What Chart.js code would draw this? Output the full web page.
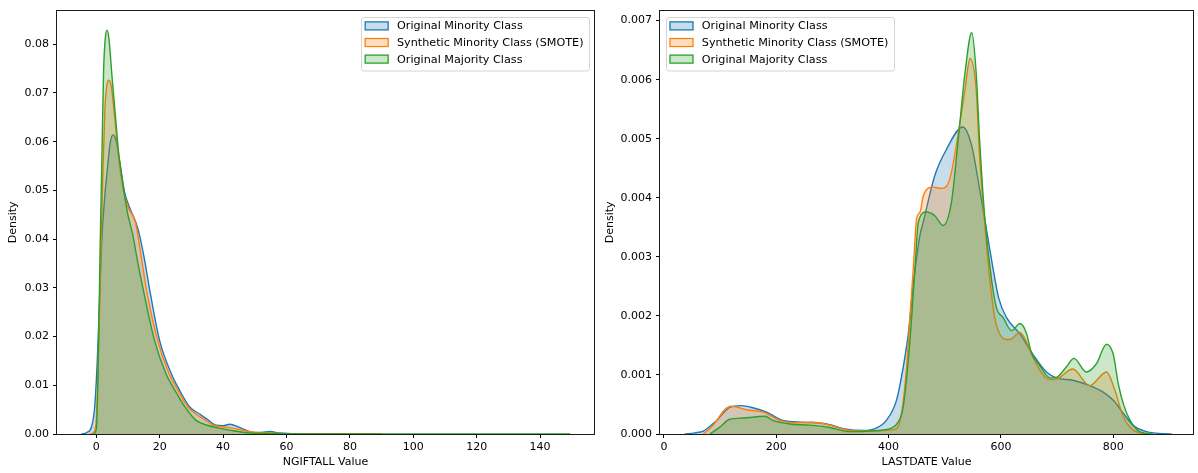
<!DOCTYPE html>
<html>
<head>
<meta charset="utf-8">
<script src="https://cdn.jsdelivr.net/npm/chart.js@4/dist/chart.umd.min.js"></script>
<style>
  html, body { margin: 0; padding: 0; background: #fff; }
  #wrap { position: relative; width: 1198px; height: 473px; }
  canvas { position: absolute; top: 0; }
</style>
</head>
<body>
<div id="wrap">
  <canvas id="ngiftallChart" width="600" height="473" style="left:0"></canvas>
  <canvas id="lastdateChart" width="598" height="473" style="left:600px"></canvas>
</div>
<script>
// series labels (legend order)
const seriesLabels = ["Original Minority Class", "Synthetic Minority Class (SMOTE)", "Original Majority Class"];

// NGIFTALL density curves, [value, density]
const ngiftallMinority = [
  [-4.7, 0], [-3, 0.0003], [-1.5, 0.0015], [-0.5, 0.0056], [0.3, 0.015], [1, 0.027], [1.7, 0.0395],
  [2.7, 0.049], [3.4, 0.0537], [4.4, 0.0598], [5.3, 0.0614], [6.3, 0.060], [7.4, 0.0558], [8.9, 0.0497],
  [10.5, 0.0465], [13.1, 0.0422], [15, 0.0365], [17, 0.029], [20, 0.0191], [23.7, 0.0123], [26, 0.0093],
  [29.4, 0.0056], [32.6, 0.0041], [35, 0.003], [37.8, 0.0018], [40, 0.0017], [42.1, 0.002], [45, 0.0014],
  [48.4, 0.0005], [52, 0.0003], [54.7, 0.0005], [58, 0.0002], [63, 0.00003], [75, 0], [90, 0]
];
const ngiftallSmote = [
  [-2, 0], [-0.8, 0.0004], [0, 0.003], [0.5, 0.012], [1, 0.025], [1.5, 0.038], [2, 0.052], [2.7, 0.0665],
  [3.3, 0.0715], [4, 0.0726], [4.8, 0.071], [5.8, 0.065], [7, 0.057], [8.5, 0.05], [10.2, 0.0463],
  [12.3, 0.0436], [13.9, 0.0375], [16, 0.029], [19.4, 0.0191], [23, 0.0123], [25.5, 0.0093], [28.8, 0.0056],
  [31, 0.0043], [34, 0.003], [37, 0.0018], [40, 0.0015], [43, 0.0012], [46, 0.0008], [50, 0.0003],
  [55, 0.0002], [60, 0.00005], [70, 0], [90, 0]
];
const ngiftallMajority = [
  [-0.8, 0], [0, 0.001], [0.4, 0.008], [0.8, 0.022], [1.2, 0.038], [1.8, 0.058], [2.3, 0.0745], [2.8, 0.081],
  [3.4, 0.0829], [4, 0.081], [5, 0.073], [6.2, 0.064], [7, 0.058], [8.3, 0.0517], [9.8, 0.0455],
  [11.5, 0.0409], [13, 0.0355], [15, 0.029], [18.4, 0.0191], [22, 0.0123], [24.5, 0.0093], [27.9, 0.0056],
  [31.5, 0.0028], [35, 0.0018], [38.8, 0.0012], [42, 0.0008], [48.4, 0.0002], [55, 0.0001], [65, 0.00003],
  [80, 0], [149.5, 0]
];

// LASTDATE density curves
const lastdateMinority = [
  [37, 0], [55, 0.00002], [70, 0.00005], [94, 0.00023], [117, 0.00045], [138, 0.00048], [160, 0.00044],
  [183, 0.00037], [212, 0.00023], [248, 0.0002], [290, 0.00017], [325, 0.00008], [355, 0.00006],
  [378, 0.0001], [396, 0.00023], [414, 0.00057], [426, 0.00113], [435, 0.00169], [444, 0.00253],
  [456, 0.00337], [462, 0.0036], [482, 0.00437], [503, 0.00482], [532, 0.0052], [548, 0.00488],
  [562, 0.00415], [577, 0.00331], [589, 0.00264], [596, 0.0023], [610, 0.00197], [634, 0.00169],
  [657, 0.00135], [681, 0.00105], [699, 0.00095], [728, 0.00091], [758, 0.00082], [782, 0.00071],
  [800, 0.00057], [818, 0.00035], [835, 0.00015], [859, 0.00004], [904, 0]
];
const lastdateSmote = [
  [70, 0], [88, 0.00015], [108, 0.00041], [120, 0.00047], [147, 0.00041], [177, 0.00037], [206, 0.00023],
  [230, 0.00019], [266, 0.0002], [295, 0.00015], [331, 0.00006], [367, 0.00005], [405, 0.00007],
  [414, 0.00009], [423, 0.00035], [432, 0.00113], [438, 0.00197], [444, 0.00281], [450, 0.00365],
  [456, 0.00376], [462, 0.00404], [479, 0.00418], [494, 0.00416], [509, 0.00432], [527, 0.00527],
  [536, 0.00583], [545, 0.00636], [556, 0.00583], [562, 0.00471], [571, 0.00359], [580, 0.00264],
  [589, 0.00197], [598, 0.00169], [610, 0.0016], [616, 0.0016], [634, 0.00172], [646, 0.00155],
  [657, 0.0013], [687, 0.00092], [699, 0.00093], [728, 0.0011], [758, 0.00082], [788, 0.00105],
  [803, 0.00074], [818, 0.00029], [835, 0.00007], [855, 0]
];
const lastdateMajority = [
  [82, 0], [100, 0.00012], [117, 0.00025], [141, 0.00027], [180, 0.0003], [194, 0.00023], [224, 0.00017],
  [260, 0.00015], [295, 0.00011], [331, 0.00004], [367, 0.00005], [405, 0.0001], [417, 0.0002],
  [426, 0.00046], [435, 0.00124], [441, 0.00197], [447, 0.00281], [453, 0.00359], [467, 0.00376],
  [482, 0.0037], [497, 0.00353], [512, 0.00393], [524, 0.00499], [536, 0.00611], [548, 0.0068],
  [556, 0.00611], [562, 0.00499], [571, 0.0037], [583, 0.00264], [592, 0.00214], [604, 0.00197],
  [619, 0.00175], [634, 0.00187], [646, 0.00169], [654, 0.00138], [669, 0.00116], [687, 0.00095],
  [699, 0.00096], [716, 0.00113], [730, 0.00128], [752, 0.00105], [770, 0.00119], [788, 0.00152],
  [800, 0.00135], [809, 0.00085], [818, 0.00051], [830, 0.00023], [847, 0.00004], [870, 0]
];

// tick values
const ngiftallXTicks = [0, 20, 40, 60, 80, 100, 120, 140];
const ngiftallYTicks = [0, 0.01, 0.02, 0.03, 0.04, 0.05, 0.06, 0.07, 0.08];
const lastdateXTicks = [0, 200, 400, 600, 800];
const lastdateYTicks = [0, 0.001, 0.002, 0.003, 0.004, 0.005, 0.006, 0.007];

const colors = ["31,119,180", "255,127,14", "44,160,44"];
const FONT = { family: "'DejaVu Sans'", size: 11 };

/**
 * Draw the full axes box like matplotlib spines.
 */
const frameBox = {
  id: "frameBox",
  afterDraw(chart) {
    const { ctx, chartArea: a } = chart;
    ctx.save();
    ctx.strokeStyle = "#1a1a1a";
    ctx.lineWidth = 1;
    ctx.strokeRect(Math.round(a.left) - 0.5, Math.round(a.top) - 0.5,
      Math.round(a.right - a.left) + 1, Math.round(a.bottom - a.top) + 1);
    ctx.restore();
  }
};

/**
 * Legend drawn inside the plot area.
 */
const insideLegend = {
  id: "insideLegend",
  afterDraw(chart, args, opts) {
    const { ctx, chartArea: a } = chart;
    const fs = 11.2;
    ctx.save();
    ctx.font = fs + "px 'DejaVu Sans'";
    const textW = Math.max(...seriesLabels.map((t) => ctx.measureText(t).width));
    const w = 4.5 + 23 + 8.8 + textW + 5;
    const h = 53.5;
    const x0 = opts.side === "right" ? a.right - 5.5 - w : a.left + 5.5;
    const y0 = a.top + 6;

    ctx.fillStyle = "rgba(255,255,255,0.8)";
    ctx.strokeStyle = "#d4d4d4";
    ctx.lineWidth = 1;
    ctx.beginPath();
    ctx.roundRect(Math.round(x0) + 0.5, Math.round(y0) + 0.5, Math.round(w), h, 2.5);
    ctx.fill();
    ctx.stroke();

    seriesLabels.forEach((label, i) => {
      const cy = y0 + 9.3 + i * 16.6;
      ctx.fillStyle = "rgba(" + colors[i] + ",0.25)";
      ctx.strokeStyle = "rgb(" + colors[i] + ")";
      ctx.lineWidth = 1.3;
      ctx.fillRect(x0 + 4.5, cy - 4, 23, 8);
      ctx.strokeRect(x0 + 4.5, cy - 4, 23, 8);
      ctx.fillStyle = "#000";
      ctx.textBaseline = "middle";
      ctx.fillText(label, x0 + 4.5 + 23 + 8.8, cy + 0.5);
    });
    ctx.restore();
  }
};

function buildDatasets(series) {
  return series.map((pts, i) => ({
    label: seriesLabels[i],
    data: pts.map((p) => ({ x: p[0], y: p[1] })),
    borderColor: "rgb(" + colors[i] + ")",
    backgroundColor: "rgba(" + colors[i] + ",0.25)",
    borderWidth: 1.4,
    fill: "origin",
    pointRadius: 0,
    cubicInterpolationMode: "monotone",
    order: 3 - i
  }));
}

function drawDensityChart(canvasId, cfg) {
  return new Chart(document.getElementById(canvasId), {
    type: "line",
    data: { datasets: buildDatasets(cfg.series) },
    plugins: [frameBox, insideLegend],
    options: {
      responsive: false,
      animation: false,
      events: [],
      layout: { padding: { top: 7, right: cfg.padRight, left: 0, bottom: 0 } },
      plugins: {
        legend: { display: false },
        tooltip: { enabled: false },
        insideLegend: { side: cfg.legendSide }
      },
      scales: {
        x: {
          type: "linear",
          min: cfg.xMin,
          max: cfg.xMax,
          afterBuildTicks: (ax) => { ax.ticks = cfg.xTicks.map((v) => ({ value: v })); },
          afterFit: (ax) => { ax.height = 39; },
          ticks: { font: FONT, color: "#000", padding: 3, maxRotation: 0, autoSkip: false,
            callback: (v) => String(v) },
          grid: { drawOnChartArea: false, tickLength: 4, color: "#000", lineWidth: 1 },
          border: { display: false },
          title: { display: true, text: cfg.xTitle, font: FONT, color: "#000", padding: { top: 0, bottom: 4 } }
        },
        y: {
          type: "linear",
          min: 0,
          max: cfg.yMax,
          afterBuildTicks: (ax) => { ax.ticks = cfg.yTicks.map((v) => ({ value: v })); },
          afterFit: (ax) => { ax.width = cfg.yWidth; },
          ticks: { font: FONT, color: "#000", padding: 4, autoSkip: false,
            callback: (v) => v.toFixed(cfg.yDigits) },
          grid: { drawOnChartArea: false, tickLength: 4, color: "#000", lineWidth: 1 },
          border: { display: false },
          title: { display: true, text: "Density", font: FONT, color: "#000", padding: { top: cfg.yTitlePad, bottom: 0 } }
        }
      }
    }
  });
}

drawDensityChart("ngiftallChart", {
  series: [ngiftallMinority, ngiftallSmote, ngiftallMajority],
  xMin: -12.4, xMax: 157, yMax: 0.0869,
  xTicks: ngiftallXTicks, yTicks: ngiftallYTicks, yDigits: 2,
  xTitle: "NGIFTALL Value", yWidth: 57, yTitlePad: 7, padRight: 6, legendSide: "right"
});

drawDensityChart("lastdateChart", {
  series: [lastdateMinority, lastdateSmote, lastdateMajority],
  xMin: -7, xMax: 942, yMax: 0.00717,
  xTicks: lastdateXTicks, yTicks: lastdateYTicks, yDigits: 3,
  xTitle: "LASTDATE Value", yWidth: 60, yTitlePad: 3.5, padRight: 5, legendSide: "left"
});
</script>
</body>
</html>
